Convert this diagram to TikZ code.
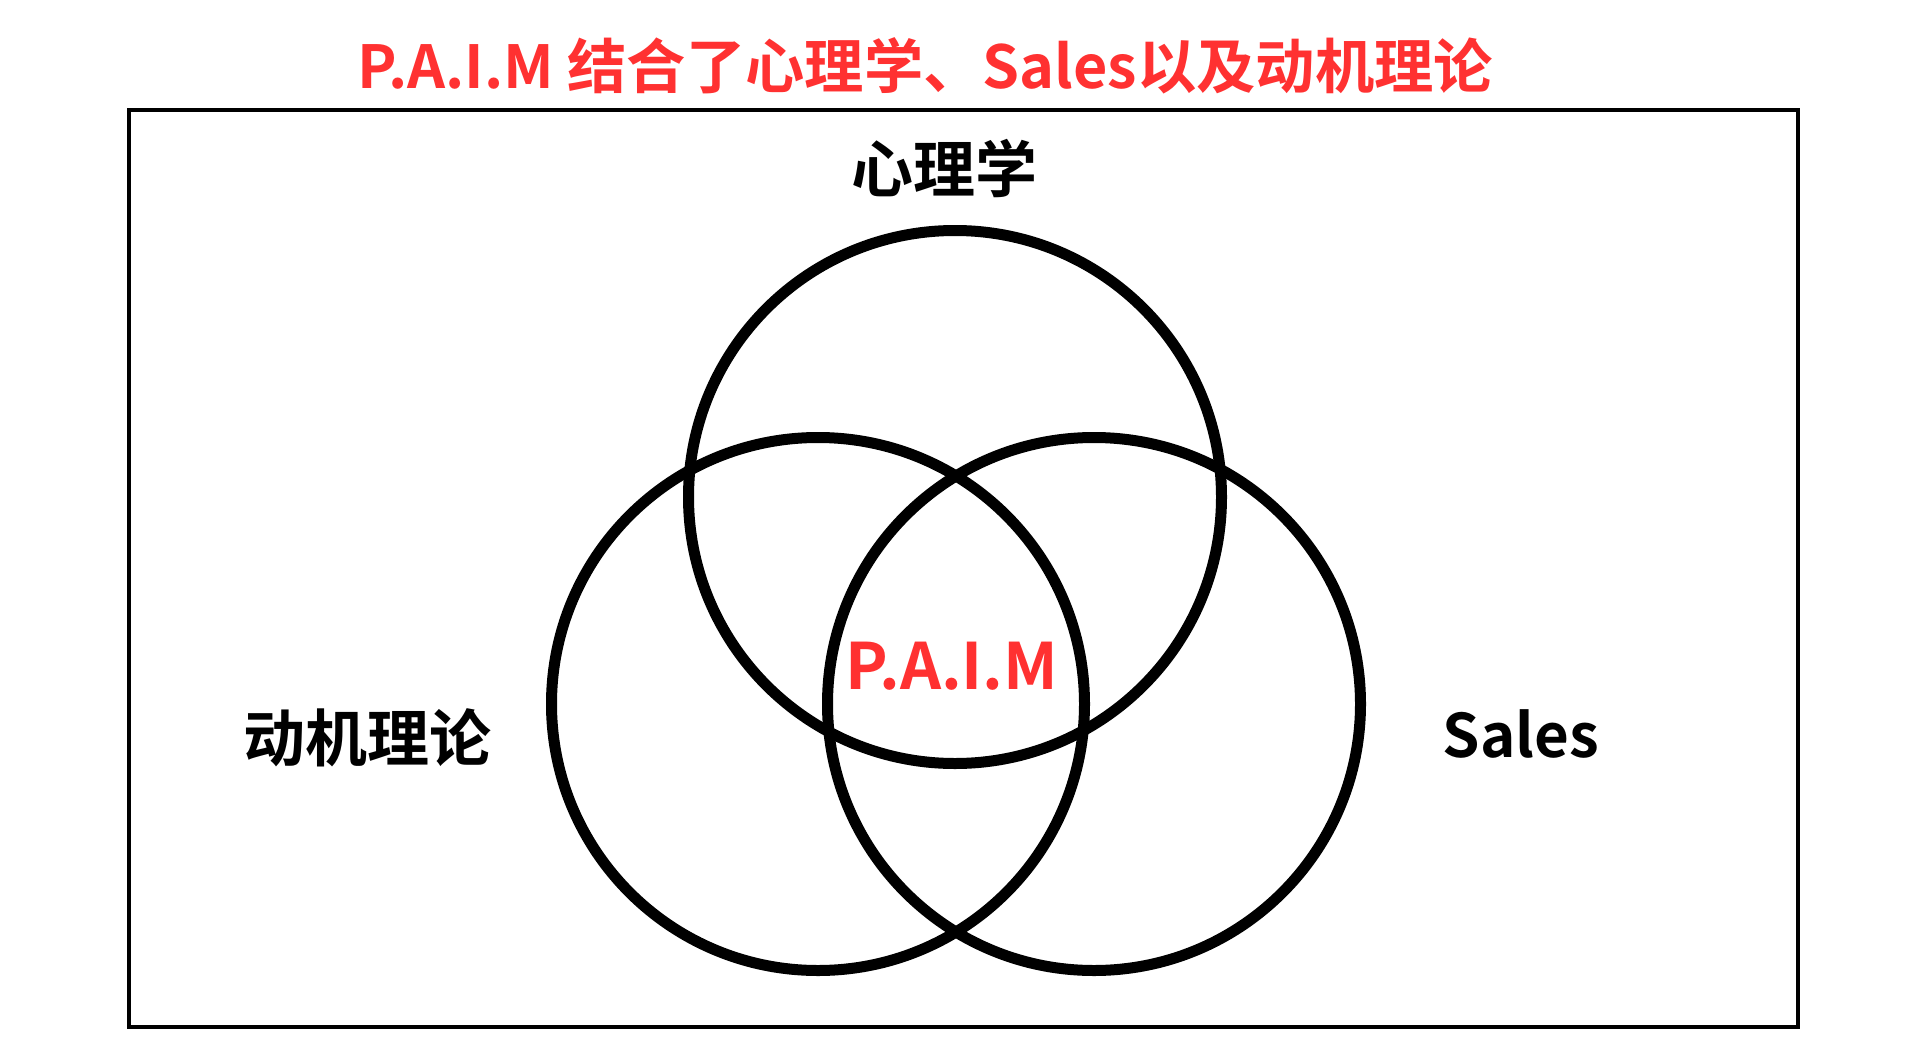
\documentclass[tikz,border=0pt]{standalone}
\usepackage{fontspec}
\newfontfamily\cjkb{Noto Sans CJK SC}[UprightFont={* Bold}]
\definecolor{paimred}{RGB}{255,49,49}
\tikzset{
  ring/.style={draw=black, line width=11pt, circle, minimum size=533pt, inner sep=0pt},
  lbl/.style={font=\cjkb\fontsize{62pt}{64pt}\selectfont, text=black, inner sep=0pt},
  redlbl/.style={font=\cjkb\fontsize{64pt}{66pt}\selectfont, text=paimred, inner sep=0pt}
}
\begin{document}
\begin{tikzpicture}[x=1pt,y=-1pt]
\useasboundingbox (0,0) rectangle (1920,1060);
\fill[white] (0,0) rectangle (1920,1060);
\node[draw=black, line width=4pt, minimum width=1669pt, minimum height=917pt, inner sep=0pt] (frame) at (963.5,568.5) {};
\node[redlbl, font=\cjkb\fontsize{59.3pt}{62pt}\selectfont] (title) at (925,66) {P.A.I.M 结合了心理学、Sales以及动机理论};
\node[ring] (psy) at (955,497) {};
\node[ring] (mot) at (818,704) {};
\node[ring] (sal) at (1094,704) {};
\node[lbl] (psyl) at (944,169) {心理学};
\node[lbl] (motl) at (367,738) {动机理论};
\node[lbl, font=\cjkb\fontsize{60pt}{62pt}\selectfont] (sall) at (1521,734) {Sales};
\node[redlbl] (paim) at (952,666) {P.A.I.M};
\end{tikzpicture}
\end{document}
